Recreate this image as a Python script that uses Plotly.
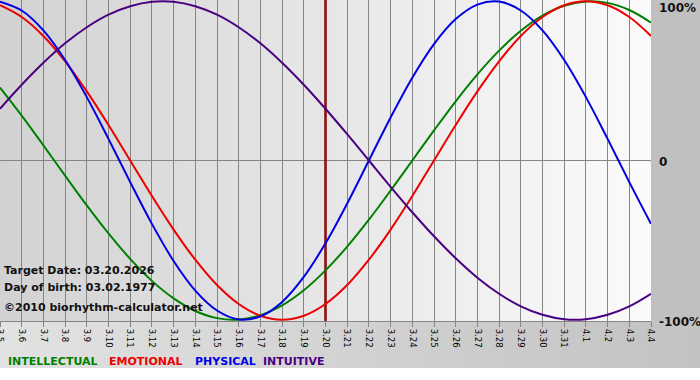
import plotly.graph_objects as go

dates = ["3.5", "3.6", "3.7", "3.8", "3.9", "3.10", "3.11", "3.12", "3.13", "3.14",
         "3.15", "3.16", "3.17", "3.18", "3.19", "3.20", "3.21", "3.22", "3.23", "3.24",
         "3.25", "3.26", "3.27", "3.28", "3.29", "3.30", "3.31", "4.1", "4.2", "4.3", "4.4"]

intellectual = [45.8, 28.2, 9.5, -9.5, -28.2, -45.8, -61.8, -75.6, -86.6, -94.5, -99.0,
                -99.9, -97.2, -91.0, -81.5, -69.0, -54.1, -37.2, -18.9, 0.0, 18.9, 37.2,
                54.1, 69.0, 81.5, 91.0, 97.2, 99.9, 99.0, 94.5, 86.6]
emotional = [97.5, 90.1, 78.2, 62.3, 43.4, 22.3, 0.0, -22.3, -43.4, -62.3, -78.2,
             -90.1, -97.5, -100.0, -97.5, -90.1, -78.2, -62.3, -43.4, -22.3, 0.0, 22.3,
             43.4, 62.3, 78.2, 90.1, 97.5, 100.0, 97.5, 90.1, 78.2]
physical = [99.8, 94.2, 81.7, 63.1, 39.8, 13.6, -13.6, -39.8, -63.1, -81.7, -94.2,
            -99.8, -97.9, -88.8, -73.1, -52.0, -27.0, 0.0, 27.0, 52.0, 73.1, 88.8,
            97.9, 99.8, 94.2, 81.7, 63.1, 39.8, 13.6, -13.6, -39.8]
intuitive = [32.5, 47.6, 61.4, 73.6, 83.7, 91.6, 96.9, 99.7, 99.7, 96.9, 91.6,
             83.7, 73.6, 61.4, 47.6, 32.5, 16.5, 0.0, -16.5, -32.5, -47.6, -61.4,
             -73.6, -83.7, -91.6, -96.9, -99.7, -99.7, -96.9, -91.6, -83.7]

series_names = ["INTELLECTUAL", "EMOTIONAL", "PHYSICAL", "INTUITIVE"]
series_colors = ["#008000", "#ee0000", "#0000e6", "#4b0082"]
target_date = "3.20"
info_lines = ["Target Date: 03.20.2026", "Day of birth: 03.02.1977", "\u00a92010 biorhythm-calculator.net"]
y_labels = ["100%", "0", "-100%"]

W, H = 700, 380
PW, PH = 651, 321  # plot area size in px


def px_x(p):
    return p / PW


def px_y(p):
    return (PH - p) / PH


def gray(v):
    v = int(round(v))
    return f"rgb({v},{v},{v})"


x = list(range(len(dates)))
fig = go.Figure()

# target date line
ti = dates.index(target_date)
fig.add_trace(go.Scatter(x=[x[ti], x[ti]], y=[-105, 105], mode="lines",
                         line=dict(color="#8b1010", width=2.6), hoverinfo="skip",
                         showlegend=False))

for name, vals, col in zip(series_names, [intellectual, emotional, physical, intuitive], series_colors):
    fig.add_trace(go.Scatter(x=x, y=vals, mode="lines", name=name,
                             line=dict(color=col, width=2, shape="spline", smoothing=1),
                             hoverinfo="skip", showlegend=False))

shapes = []
# plot-area horizontal gradient
n = 65
for i in range(n):
    x0 = i * PW / n
    x1 = (i + 1) * PW / n
    t = (i + 0.5) / n
    c = 210 + (251 - 210) * t
    shapes.append(dict(type="rect", xref="paper", yref="paper", x0=px_x(x0), x1=px_x(x1 + 0.5),
                       y0=0, y1=1, fillcolor=gray(c), line=dict(width=0), layer="below"))
# right margin
shapes.append(dict(type="rect", xref="paper", yref="paper", x0=px_x(PW), x1=px_x(W),
                   y0=px_y(PH), y1=px_y(0), fillcolor=gray(192), line=dict(width=0), layer="below"))
# bottom strip gradient
m = 70
for i in range(m):
    x0 = i * W / m
    x1 = (i + 1) * W / m
    t = (i + 0.5) / m
    c = 226 + (194 - 226) * t
    shapes.append(dict(type="rect", xref="paper", yref="paper", x0=px_x(x0), x1=px_x(x1 + 0.5),
                       y0=px_y(368), y1=px_y(PH), fillcolor=gray(c), line=dict(width=0), layer="below"))

annotations = []
info_y = [270, 287, 307]
for txt, yy in zip(info_lines, info_y):
    annotations.append(dict(text=txt, xref="paper", yref="paper", x=px_x(2), y=px_y(yy),
                            xanchor="left", yanchor="middle", showarrow=False,
                            font=dict(family="DejaVu Sans", size=11, color="#111111", weight="bold")))

for txt, yy in zip(y_labels, [8, 162, 322]):
    annotations.append(dict(text=txt, xref="paper", yref="paper", x=px_x(657), y=px_y(yy),
                            xanchor="left", yanchor="middle", showarrow=False,
                            font=dict(family="DejaVu Sans", size=12, color="#111111", weight="bold")))

legend_x = [6, 107, 193, 261]
for txt, col, lx in zip(series_names, series_colors, legend_x):
    annotations.append(dict(text=txt, xref="paper", yref="paper", x=px_x(lx), y=px_y(361),
                            xanchor="left", yanchor="middle", showarrow=False,
                            font=dict(family="DejaVu Sans", size=11, color=col, weight="bold")))

fig.update_layout(
    width=W, height=H,
    margin=dict(l=0, r=W - PW, t=0, b=H - PH, pad=0),
    paper_bgcolor="white",
    plot_bgcolor="rgba(0,0,0,0)",
    showlegend=False,
    shapes=shapes,
    annotations=annotations,
    xaxis=dict(range=[0, len(dates) - 1], tickmode="array", tickvals=x, ticktext=dates,
               tickangle=90, showgrid=True, gridcolor="#858585", gridwidth=1,
               zeroline=False, showline=True, linecolor="#858585", linewidth=1,
               ticks="outside", ticklen=5, tickcolor="#858585", automargin=False,
               ticklabeloverflow="allow",
               tickfont=dict(family="DejaVu Sans", size=8.5, color="black"), fixedrange=True),
    yaxis=dict(range=[-100.8, 100.8], showgrid=False, showticklabels=False, automargin=False,
               zeroline=True, zerolinecolor="#858585", zerolinewidth=1, fixedrange=True),
)

fig.write_html("out.html", config={"displayModeBar": False},
               post_script="document.body.style.margin='0';document.body.style.padding='0';")
